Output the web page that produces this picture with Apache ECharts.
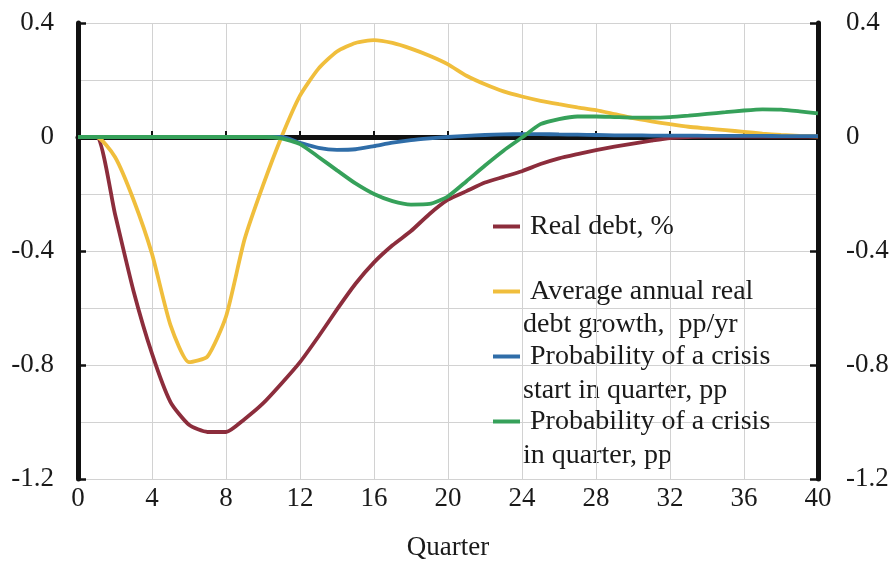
<!DOCTYPE html>
<html>
<head>
<meta charset="utf-8">
<script src="https://cdn.jsdelivr.net/npm/echarts@6/dist/echarts.min.js"></script>
<style>
  html, body { margin: 0; padding: 0; background: #ffffff; }
  #chart { width: 893px; height: 571px; }
</style>
</head>
<body>
<div id="chart"></div>
<script>
// Quarters 0..40
const quarters = [0,1,2,3,4,5,6,7,8,9,10,11,12,13,14,15,16,17,18,19,20,21,22,23,24,25,26,27,28,29,30,31,32,33,34,35,36,37,38,39,40];

const seriesNames = [
  'Real debt, %',
  'Average annual real\ndebt growth,  pp/yr',
  'Probability of a crisis\nstart in quarter, pp',
  'Probability of a crisis\nin quarter, pp'
];

const realDebt = [0,0,-0.27,-0.54,-0.76,-0.93,-1.01,-1.035,-1.035,-0.99,-0.935,-0.865,-0.79,-0.70,-0.605,-0.515,-0.44,-0.38,-0.33,-0.27,-0.22,-0.19,-0.16,-0.14,-0.12,-0.095,-0.075,-0.06,-0.046,-0.034,-0.023,-0.013,-0.004,0,0.001,0.001,0.001,0.001,0.001,0.001,0.001];

const debtGrowth = [0,0,-0.07,-0.22,-0.41,-0.66,-0.79,-0.77,-0.63,-0.36,-0.17,0.0,0.145,0.24,0.30,0.33,0.34,0.33,0.31,0.285,0.255,0.215,0.185,0.16,0.142,0.127,0.115,0.104,0.094,0.08,0.066,0.055,0.045,0.036,0.03,0.024,0.018,0.012,0.007,0.004,0.002];

const crisisStart = [0,0,0,0,0,0,0,0,0,0,0,0,-0.02,-0.038,-0.045,-0.043,-0.032,-0.02,-0.011,-0.005,0,0.004,0.007,0.009,0.01,0.01,0.009,0.008,0.007,0.006,0.006,0.005,0.005,0.005,0.004,0.004,0.004,0.004,0.003,0.003,0.003];

const crisisProb = [0,0,0,0,0,0,0,0,0,0,0,-0.005,-0.025,-0.07,-0.117,-0.163,-0.2,-0.225,-0.237,-0.235,-0.208,-0.155,-0.1,-0.048,-0.002,0.045,0.063,0.072,0.072,0.07,0.068,0.068,0.07,0.075,0.081,0.087,0.093,0.097,0.096,0.09,0.083];

const xTicks = { min: 0, max: 40, interval: 4 };
const yTicks = { min: -1.2, max: 0.4, interval: 0.4 };

const colors = ['#8C2D3C', '#F0BE3C', '#2F6DA8', '#36A15A'];
const FONT = 'Liberation Serif';
const TXT = '#1a1a1a';
const GRIDC = '#d2d2d2';

function pairs(arr) { return quarters.map((q, i) => [q, arr[i]]); }

const chart = echarts.init(document.getElementById('chart'), null, { renderer: 'canvas' });

function lineSeries(idx, arr) {
  return {
    name: seriesNames[idx], type: 'line', data: pairs(arr), color: colors[idx],
    showSymbol: false, symbol: 'none', smooth: 0.2,
    lineStyle: { width: 3.8, color: colors[idx] }, z: 2 + idx
  };
}

const option = {
  animation: false,
  backgroundColor: '#ffffff',
  grid: { left: 78, right: 75, top: 23, bottom: 92, containLabel: false, outerBoundsMode: 'none' },
  xAxis: [
    {
      type: 'value', min: xTicks.min, max: xTicks.max, interval: xTicks.interval,
      position: 'bottom',
      name: 'Quarter', nameLocation: 'middle', nameGap: 55,
      nameTextStyle: { fontFamily: FONT, fontSize: 27, color: TXT },
      axisLine: { show: false, onZero: false },
      axisTick: { show: false },
      axisLabel: { fontFamily: FONT, fontSize: 27, color: TXT, margin: 6 },
      splitLine: { show: true, lineStyle: { color: GRIDC, width: 1 } }
    },
    {
      type: 'value', min: xTicks.min, max: xTicks.max, interval: xTicks.interval,
      position: 'bottom',
      axisLine: { show: true, onZero: true, lineStyle: { color: '#111', width: 5 } },
      axisTick: { show: true, inside: true, length: 6, lineStyle: { color: '#111', width: 2 } },
      axisLabel: { show: false },
      splitLine: { show: false }
    }
  ],
  yAxis: [
    {
      type: 'value', min: yTicks.min, max: yTicks.max, interval: yTicks.interval,
      position: 'left',
      axisLine: { show: true, onZero: false, lineStyle: { color: '#111', width: 5 } },
      axisTick: { show: true, inside: true, length: 8, lineStyle: { color: '#111', width: 2.5 } },
      axisLabel: { fontFamily: FONT, fontSize: 27, color: TXT, margin: 24 },
      splitLine: { show: true, lineStyle: { color: GRIDC, width: 1 } },
      minorTick: { show: false, splitNumber: 2 },
      minorSplitLine: { show: true, lineStyle: { color: GRIDC, width: 1 } }
    },
    {
      type: 'value', min: yTicks.min, max: yTicks.max, interval: yTicks.interval,
      position: 'right',
      axisLine: { show: true, onZero: false, lineStyle: { color: '#111', width: 5 } },
      axisTick: { show: true, inside: true, length: 8, lineStyle: { color: '#111', width: 2.5 } },
      axisLabel: { fontFamily: FONT, fontSize: 27, color: TXT, margin: 28 },
      splitLine: { show: false },
      minorSplitLine: { show: false }
    }
  ],
  legend: {
    orient: 'vertical',
    left: 488, top: 206,
    itemWidth: 27, itemHeight: 4, icon: 'rect',
    itemGap: 34,
    data: seriesNames,
    formatter: function (name) { return name.split('\n')[0]; },
    textStyle: { fontFamily: FONT, fontSize: 28, color: TXT, lineHeight: 31, padding: [0, 0, 0, 5] }
  },
  graphic: [
    { type: 'text', left: 523, top: 311, silent: true,
      style: { text: seriesNames[1].split('\n')[1], fontFamily: FONT, fontSize: 28, fill: TXT } },
    { type: 'text', left: 523, top: 377, silent: true,
      style: { text: seriesNames[2].split('\n')[1], fontFamily: FONT, fontSize: 28, fill: TXT } },
    { type: 'text', left: 523, top: 442, silent: true,
      style: { text: seriesNames[3].split('\n')[1], fontFamily: FONT, fontSize: 28, fill: TXT } }
  ],
  series: [
    lineSeries(0, realDebt),
    lineSeries(1, debtGrowth),
    lineSeries(2, crisisStart),
    lineSeries(3, crisisProb)
  ]
};

chart.setOption(option);
</script>
</body>
</html>
